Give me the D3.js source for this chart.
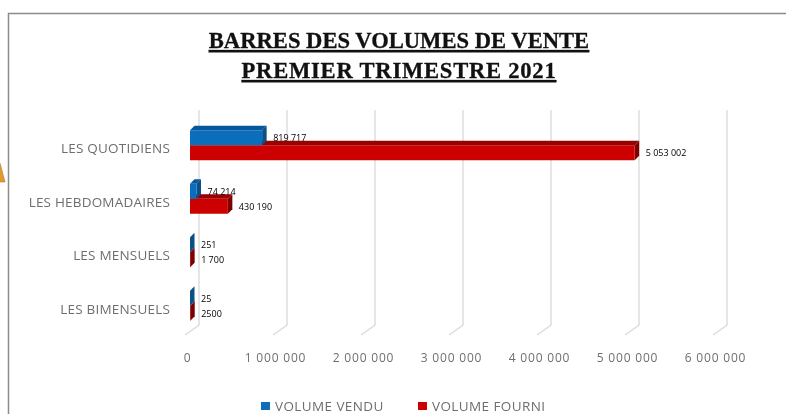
<!DOCTYPE html>
<html>
<head>
<meta charset="utf-8">
<script src="https://cdn.jsdelivr.net/npm/d3@7"></script>
<style>
body{margin:0;background:#fff;overflow:hidden}
svg{filter:blur(0.35px)}
text{font-family:"Open Sans",sans-serif}
</style>
</head>
<body>
<div id="chart"></div>
<script>
var categories = ["LES QUOTIDIENS", "LES HEBDOMADAIRES", "LES MENSUELS", "LES BIMENSUELS"];
var vendu = [819717, 74214, 251, 25];
var fourni = [5053002, 430190, 1700, 2500];
var venduLabels = ["819 717", "74 214", "251", "25"];
var fourniLabels = ["5 053 002", "430 190", "1 700", "2500"];
var tickValues = [0, 1000000, 2000000, 3000000, 4000000, 5000000, 6000000];
var titleLines = ["BARRES DES VOLUMES DE VENTE", "PREMIER TRIMESTRE 2021"];
var seriesNames = ["VOLUME VENDU", "VOLUME FOURNI"];

var width = 786, height = 414;
var depth = 4.5; // profondeur de l'effet 3D des barres
var wallX = 9; // decalage du mur du fond par rapport au plan avant

var svg = d3.select("#chart").append("svg")
    .attr("width", width)
    .attr("height", height);

var x = d3.scaleLinear().domain([0, 6000000]).range([190, 718]);
var y = d3.scaleBand().domain(categories).range([120, 334]);
var barH = 15;

// cadre
svg.append("path")
    .attr("d", "M8.5,414V13.5H786")
    .attr("fill", "none")
    .attr("stroke", "#8c8c8c")
    .attr("stroke-width", 1.5);

// petit triangle orange coupe a gauche
svg.append("path")
    .attr("d", d3.line()([[0, 163], [5, 182], [0, 182]]))
    .attr("fill", "#e39a2d")
    .attr("stroke", "#9a6a20")
    .attr("stroke-width", 0.5);

// titre
var titleSpacing = ["0px", "0.75px"];
svg.selectAll(".title")
    .data(titleLines)
    .enter()
    .append("text")
    .attr("class", "title")
    .attr("x", 399)
    .attr("y", function(d, i) { return 48 + i * 30; })
    .attr("text-anchor", "middle")
    .style("font-family", "'Liberation Serif',serif")
    .style("font-size", "22.6px")
    .style("font-weight", "bold")
    .style("text-decoration", "underline")
    .style("letter-spacing", function(d, i) { return titleSpacing[i]; })
    .attr("fill", "#111")
    .attr("stroke", "#111")
    .attr("stroke-width", 0.3)
    .text(function(d) { return d; });

// grille : mur du fond + sol
var grid = svg.append("g");
grid.selectAll("path")
    .data(tickValues)
    .enter()
    .append("path")
    .attr("d", function(d) {
        var bx = x(d) + wallX;
        return "M" + bx + ",110V325L" + (bx - 14) + ",335";
    })
    .attr("fill", "none")
    .attr("stroke", "#dedede")
    .attr("stroke-width", 1.5);

// etiquettes de l'axe
var xAxis = d3.axisBottom(x)
    .tickValues(tickValues)
    .tickSize(0)
    .tickFormat(function(d) { return d3.format(",")(d).replace(/,/g, " "); });
var axisG = svg.append("g")
    .attr("transform", "translate(-3,350)")
    .call(xAxis);
axisG.select(".domain").remove();
axisG.selectAll("text")
    .attr("fill", "#6e6e6e")
    .style("font-size", "12px")
    .style("letter-spacing", "0.8px");

// etiquettes des categories
svg.selectAll(".cat")
    .data(categories)
    .enter()
    .append("text")
    .attr("class", "cat")
    .attr("x", 170)
    .attr("y", function(d) { return y(d) + y.bandwidth() / 2 - 1.5 + 8; })
    .attr("text-anchor", "end")
    .attr("fill", "#6e6e6e")
    .style("font-size", "13.5px")
    .style("letter-spacing", "0.2px")
    .text(function(d) { return d; });

// barre 3D : face, dessus, cote
function bar3d(x1, y0, color, top, side) {
    var x0 = x(0);
    var g = svg.append("g");
    g.append("path")
        .attr("d", d3.line()([[x0, y0], [x0 + depth, y0 - depth], [x1 + depth, y0 - depth], [x1, y0]]))
        .attr("fill", top);
    g.append("path")
        .attr("d", d3.line()([[x1, y0], [x1 + depth, y0 - depth], [x1 + depth, y0 + barH - depth], [x1, y0 + barH]]))
        .attr("fill", side);
    g.append("rect")
        .attr("x", x0)
        .attr("y", y0)
        .attr("width", x1 - x0)
        .attr("height", barH)
        .attr("fill", color);
}

categories.forEach(function(c, i) {
    var mid = y(c) + y.bandwidth() / 2 - 1.5;
    // le rouge d'abord : la barre bleue passe devant son dessus
    bar3d(x(fourni[i]), mid, "#cc0000", "#990000", "#7d0000");
    bar3d(x(vendu[i]), mid - barH, "#0a6ebd", "#07589a", "#0b4f85");
    svg.append("text")
        .attr("x", x(vendu[i]) + 11)
        .attr("y", mid - 4)
        .attr("fill", "#000")
        .style("font-size", "9px")
        .text(venduLabels[i]);
    svg.append("text")
        .attr("x", x(fourni[i]) + 11)
        .attr("y", mid + 11)
        .attr("fill", "#000")
        .style("font-size", "9px")
        .text(fourniLabels[i]);
});

// legende
var legendColors = ["#0a6ebd", "#cc0000"];
var legendX = [261, 418];
seriesNames.forEach(function(s, i) {
    svg.append("rect")
        .attr("x", legendX[i])
        .attr("y", 402)
        .attr("width", 9)
        .attr("height", 8)
        .attr("fill", legendColors[i]);
    svg.append("text")
        .attr("x", legendX[i] + 14)
        .attr("y", 411)
        .attr("fill", "#6e6e6e")
        .style("font-size", "13.5px")
        .style("letter-spacing", "0.4px")
        .text(s);
});
</script>
</body>
</html>
